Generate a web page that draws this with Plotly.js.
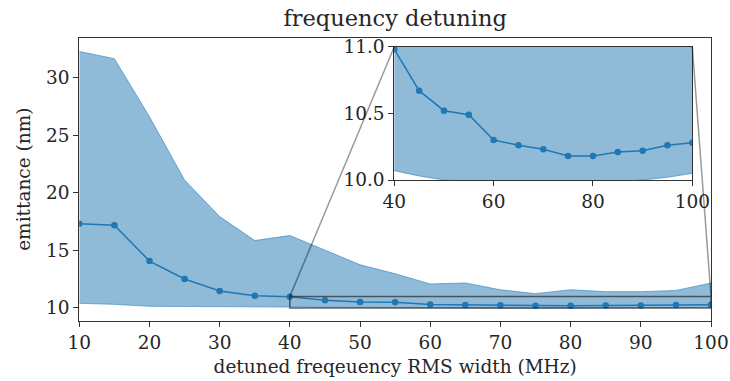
<!DOCTYPE html>
<html>
<head>
<meta charset="utf-8">
<script src="https://cdn.plot.ly/plotly-3.0.1.min.js"></script>
<style>html,body{margin:0;padding:0;background:#fff;}#chart{width:730px;height:381px;}</style>
</head>
<body>
<div id="chart"></div>
<script>
// ---- data ----
const detuning = [10, 15, 20, 25, 30, 35, 40, 45, 50, 55, 60, 65, 70, 75, 80, 85, 90, 95, 100];
const emitMean = [17.30, 17.19, 14.07, 12.51, 11.47, 11.06, 10.98, 10.67, 10.52, 10.49, 10.30, 10.26, 10.23, 10.18, 10.18, 10.21, 10.22, 10.26, 10.28];
const emitLow  = [10.40, 10.31, 10.14, 10.12, 10.10, 10.09, 10.07, 10.03, 10.00, 9.99, 9.98, 9.98, 9.98, 9.98, 9.98, 9.99, 10.00, 10.02, 10.05];
const emitHigh = [32.28, 31.65, 26.60, 21.10, 17.93, 15.85, 16.29, 15.05, 13.75, 12.97, 12.08, 12.17, 11.58, 11.24, 11.58, 11.41, 11.41, 11.52, 12.16];
const xTicks = [10, 20, 30, 40, 50, 60, 70, 80, 90, 100];
const yTicks = [10, 15, 20, 25, 30];
const insetXTicks = [40, 60, 80, 100];
const insetYTicks = [10.0, 10.5, 11.0];
const zoomX = [40, 100];
const zoomY = [10, 11];
const titleText = "frequency detuning";
const xLabel = "detuned freqeuency RMS width (MHz)";
const yLabel = "emittance (nm)";

// ---- layout geometry ----
const W = 730, H = 381;
const mainXDom = [79.3 / W, 711 / W];
const mainYDom = [(H - 320.7) / H, (H - 37.7) / H];
const insXDom = [394.3 / W, 692.3 / W];
const insYDom = [(H - 180) / H, (H - 46.7) / H];
const mainXRange = [10, 100];
const mainYRange = [8.89, 33.47];

const C0 = '#1f77b4';
const bandFill = 'rgba(31,119,180,0.5)';
const bandLine = 'rgba(31,119,180,0.55)';
const font = 'DejaVu Serif, serif';
const txt = '#262626';
const fs = 18.5;

function bandTraces(xa, ya, msize) {
  return [
    {x: detuning, y: emitLow, type: 'scatter', mode: 'lines', xaxis: xa, yaxis: ya,
     line: {color: bandLine, width: 1}, hoverinfo: 'skip', showlegend: false},
    {x: detuning, y: emitHigh, type: 'scatter', mode: 'lines', xaxis: xa, yaxis: ya, fill: 'tonexty',
     fillcolor: bandFill, line: {color: bandLine, width: 1}, showlegend: false},
    {x: detuning, y: emitMean, type: 'scatter', mode: 'lines+markers', xaxis: xa, yaxis: ya,
     line: {color: C0, width: 1.5}, marker: {color: C0, size: msize}, showlegend: false}
  ];
}

const data = [...bandTraces('x', 'y', 6.5), ...bandTraces('x2', 'y2', 6.5)];

// map main-axis data coords to paper
function px(x) { return mainXDom[0] + (x - mainXRange[0]) / (mainXRange[1] - mainXRange[0]) * (mainXDom[1] - mainXDom[0]); }
function py(y) { return mainYDom[0] + (y - mainYRange[0]) / (mainYRange[1] - mainYRange[0]) * (mainYDom[1] - mainYDom[0]); }

const axCommon = {
  showgrid: false, zeroline: false, showline: true, mirror: true,
  linecolor: '#333', linewidth: 1, ticks: 'outside', ticklen: 5, tickwidth: 1, tickcolor: '#333',
  tickfont: {family: font, size: fs, color: txt}, automargin: false
};

const layout = {
  width: W, height: H,
  margin: {l: 0, r: 0, t: 0, b: 0},
  paper_bgcolor: '#fff', plot_bgcolor: '#fff',
  showlegend: false,
  title: {text: titleText, font: {family: font, size: 22.5, color: txt},
          x: (mainXDom[0] + mainXDom[1]) / 2, xanchor: 'center', xref: 'paper',
          y: 1 - 26 / H, yanchor: 'bottom', yref: 'container'},
  xaxis: Object.assign({}, axCommon, {domain: mainXDom, range: mainXRange, tickvals: xTicks,
          title: {text: xLabel, font: {family: font, size: fs, color: txt}, standoff: 8}}),
  yaxis: Object.assign({}, axCommon, {domain: mainYDom, range: mainYRange, tickvals: yTicks,
          title: {text: yLabel, font: {family: font, size: fs, color: txt}, standoff: 10}}),
  xaxis2: Object.assign({}, axCommon, {domain: insXDom, range: zoomX, tickvals: insetXTicks, anchor: 'y2'}),
  yaxis2: Object.assign({}, axCommon, {domain: insYDom, range: zoomY, tickvals: insetYTicks, tickformat: '.1f', anchor: 'x2'}),
  shapes: [
    {type: 'rect', xref: 'x2', yref: 'y2', x0: zoomX[0], x1: zoomX[1], y0: zoomY[0], y1: zoomY[1],
     fillcolor: '#fff', line: {width: 0}, layer: 'below'},
    {type: 'rect', xref: 'x', yref: 'y', x0: zoomX[0], x1: zoomX[1], y0: zoomY[0], y1: zoomY[1],
     fillcolor: 'rgba(0,0,0,0)', line: {color: 'rgba(40,40,40,0.7)', width: 1.5}, layer: 'above'},
    {type: 'line', xref: 'paper', yref: 'paper', x0: px(zoomX[0]), y0: py(zoomY[1]), x1: insXDom[0], y1: insYDom[1],
     line: {color: 'rgba(0,0,0,0.4)', width: 1.5}, layer: 'above'},
    {type: 'line', xref: 'paper', yref: 'paper', x0: px(zoomX[1]), y0: py(zoomY[1]), x1: insXDom[1], y1: insYDom[1],
     line: {color: 'rgba(0,0,0,0.4)', width: 1.5}, layer: 'above'}
  ]
};

Plotly.newPlot('chart', data, layout, {staticPlot: true, displayModeBar: false});
</script>
</body>
</html>
